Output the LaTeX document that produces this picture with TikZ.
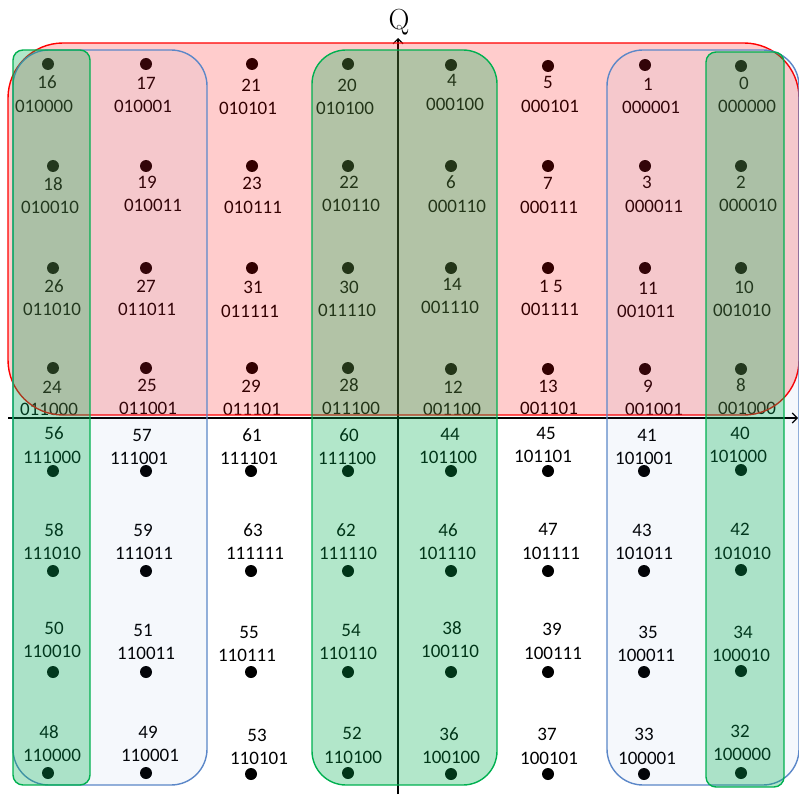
\documentclass[tikz,border=0pt]{standalone}
\usepackage{fontspec}
\newfontfamily\calfont{Carlito}
\usetikzlibrary{arrows.meta}
\definecolor{rbord}{HTML}{FF0000}
\definecolor{bbord}{HTML}{5B87C8}
\definecolor{bfill}{HTML}{4472C4}
\definecolor{gbord}{HTML}{00B050}
\tikzset{
  dot/.style={circle,fill=black,inner sep=0pt,minimum width=12pt,minimum height=11pt},
  lab/.style={inner sep=0pt,font=\calfont\fontsize{19}{22}\selectfont},
  axis/.style={line width=1.1pt,-{Straight Barb[length=5pt,width=10pt,line width=1.1pt]}},
  redbox/.style={draw=rbord,line width=1.4pt,fill=rbord,fill opacity=0.2,rounded corners=55pt},
  bluebox/.style={draw=bbord,line width=1.4pt,fill=bfill,fill opacity=0.05,rounded corners=36pt},
  greenbig/.style={draw=gbord,line width=1.4pt,fill=gbord,fill opacity=0.3,rounded corners=34pt},
  greensmall/.style={draw=gbord,line width=1.4pt,fill=gbord,fill opacity=0.3,rounded corners=10pt}
}
\newcommand\cell[9]{%
  \node[dot] (d#1) at (#2,#3) {};
  \node[lab] (n#1) at (#4,#5) {#6};
  \node[lab] (b#1) at (#7,#8) {#9};}
\begin{document}
\begin{tikzpicture}[x=1pt,y=-1pt]
\useasboundingbox (0,0) rectangle (799,794);
% axes
\coordinate (xl) at (8,418);
\coordinate (xr) at (798,418);
\coordinate (yb) at (398,794);
\coordinate (yt) at (398,38);
\draw[axis] (xl) -- (xr);
\draw[axis] (yb) -- (yt);
\node[font=\fontsize{29}{30}\selectfont,inner sep=0pt,anchor=base] (Q) at (399,30) {Q};
% top half
\cell{16}{48}{64}{47}{82}{16}{44}{106}{010000}
\cell{18}{53}{166}{53}{184}{18}{50}{207}{010010}
\cell{26}{53}{268}{54}{286}{26}{52}{309}{011010}
\cell{24}{53}{368}{52}{387}{24}{49}{409}{011000}
\cell{17}{146}{64}{146}{83}{17}{143}{106}{010001}
\cell{19}{146}{166}{147}{182}{19}{153}{205}{010011}
\cell{27}{146}{268}{146}{286}{27}{147}{309}{011011}
\cell{25}{146}{368}{147}{385}{25}{148}{408}{011001}
\cell{21}{252}{64}{251}{85}{21}{248}{108}{010101}
\cell{23}{252}{166}{252}{183}{23}{253}{207}{010111}
\cell{31}{252}{268}{253}{287}{31}{250}{311}{011111}
\cell{29}{252}{368}{251}{386}{29}{252}{409}{011101}
\cell{20}{348}{64}{347}{85}{20}{345}{108}{010100}
\cell{22}{348}{166}{349}{182}{22}{351}{205}{010110}
\cell{30}{348}{268}{349}{287}{30}{347}{310}{011110}
\cell{28}{348}{368}{349}{385}{28}{351}{408}{011100}
\cell{4}{451}{65}{452}{80}{4}{455}{104}{000100}
\cell{6}{451}{166}{451}{182}{6}{457}{206}{000110}
\cell{14}{451}{268}{452}{284}{14}{450}{307}{001110}
\cell{12}{451}{369}{453}{387}{12}{452}{409}{001100}
\cell{5}{548}{66}{548}{82}{5}{550}{106}{000101}
\cell{7}{548}{166}{548}{183}{7}{549}{207}{000111}
\cell{15}{548}{268}{551}{286}{1 5}{550}{309}{001111}
\cell{13}{548}{369}{548}{386}{13}{549}{408}{001101}
\cell{1}{645}{65}{648}{84}{1}{651}{107}{000001}
\cell{3}{645}{166}{647}{182}{3}{654}{206}{000011}
\cell{11}{645}{268}{648}{288}{11}{646}{311}{001011}
\cell{9}{645}{369}{648}{386}{9}{654}{409}{001001}
\cell{0}{741}{66}{744}{83}{0}{747}{106}{000000}
\cell{2}{741}{166}{741}{182}{2}{748}{205}{000010}
\cell{10}{741}{268}{744}{287}{10}{742}{310}{001010}
\cell{8}{741}{369}{741}{385}{8}{747}{408}{001000}
% bottom half
\cell{56}{53}{471}{54}{433}{56}{52}{457}{111000}
\cell{58}{53}{571}{54}{530}{58}{52}{553}{111010}
\cell{50}{53}{672}{54}{628}{50}{52}{651}{110010}
\cell{48}{48}{773}{49}{732}{48}{52}{755}{110000}
\cell{57}{146}{471}{142}{435}{57}{139}{458}{111001}
\cell{59}{146}{571}{143}{530}{59}{144}{553}{111011}
\cell{51}{146}{672}{143}{630}{51}{146}{653}{110011}
\cell{49}{146}{773}{148}{732}{49}{150}{755}{110001}
\cell{61}{251}{471}{252}{435}{61}{249}{458}{111101}
\cell{63}{251}{571}{253}{530}{63}{255}{553}{111111}
\cell{55}{251}{672}{249}{632}{55}{247}{655}{110111}
\cell{53}{251}{774}{257}{735}{53}{259}{758}{110101}
\cell{60}{348}{471}{349}{435}{60}{347}{458}{111100}
\cell{62}{348}{571}{346}{530}{62}{348}{553}{111110}
\cell{54}{348}{672}{351}{630}{54}{348}{653}{110110}
\cell{52}{348}{773}{352}{733}{52}{353}{757}{110100}
\cell{44}{451}{471}{450}{434}{44}{448}{457}{101100}
\cell{46}{451}{571}{448}{530}{46}{447}{553}{101110}
\cell{38}{451}{672}{452}{628}{38}{450}{651}{100110}
\cell{36}{451}{774}{449}{734}{36}{451}{757}{100100}
\cell{45}{548}{471}{546}{433}{45}{543}{456}{101101}
\cell{47}{548}{571}{548}{529}{47}{551}{553}{101111}
\cell{39}{548}{672}{552}{629}{39}{553}{653}{100111}
\cell{37}{548}{774}{547}{734}{37}{549}{758}{100101}
\cell{41}{644}{471}{647}{435}{41}{644}{458}{101001}
\cell{43}{644}{571}{642}{530}{43}{644}{553}{101011}
\cell{35}{644}{672}{648}{632}{35}{646}{655}{100011}
\cell{33}{644}{774}{644}{734}{33}{647}{758}{100001}
\cell{40}{741}{470}{740}{433}{40}{738}{456}{101000}
\cell{42}{741}{570}{740}{529}{42}{742}{553}{101010}
\cell{34}{741}{671}{743}{632}{34}{741}{655}{100010}
\cell{32}{741}{773}{740}{731}{32}{742}{754}{100000}
% overlay regions
\path[redbox] (8,43) rectangle (799,415);
\path[bluebox] (13,50) rectangle (207,785);
\path[bluebox] (607,50) rectangle (799,785);
\path[greensmall] (13,50) rectangle (90,785);
\path[greenbig] (312,50) rectangle (497,785);
\path[greensmall] (706,52) rectangle (784,787);
\end{tikzpicture}
\end{document}
